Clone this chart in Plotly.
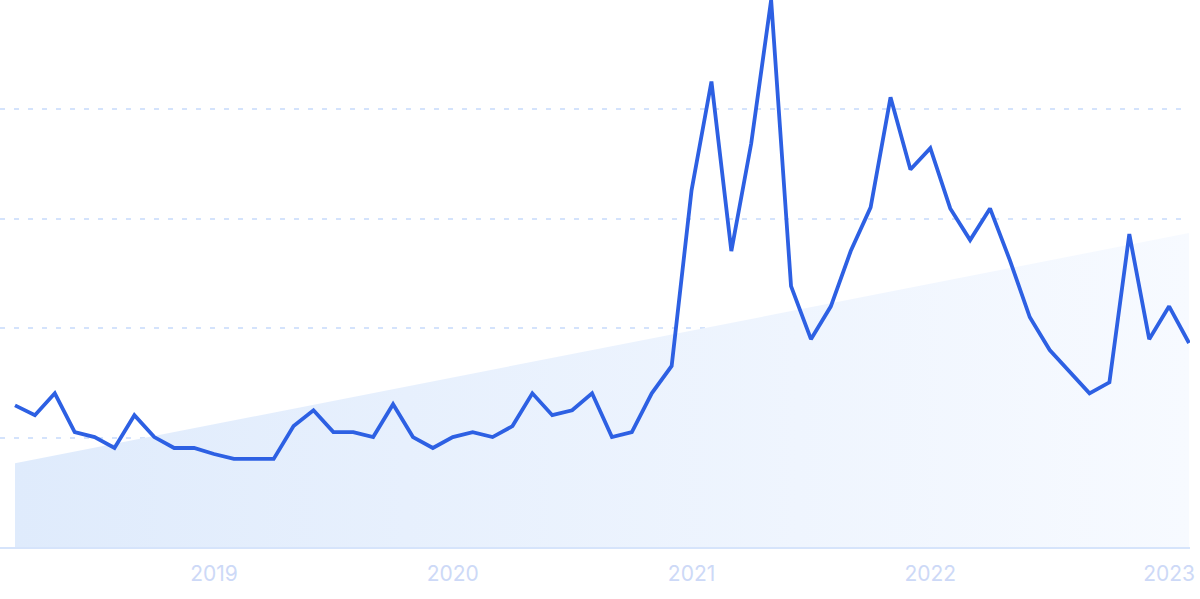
import plotly.graph_objects as go

# Monthly index values, March 2018 .. February 2023
months = [f"{2018 + (m - 1) // 12}-{(m - 1) % 12 + 1:02d}" for m in range(3, 63)]
values = [
    25.9, 24.1, 28.1, 21.0, 20.1, 18.1, 24.1, 20.1, 18.1, 18.1,
    17.0, 16.1, 16.1, 16.1, 22.1, 25.0, 21.0, 21.0, 20.1, 26.1,
    20.1, 18.1, 20.1, 21.0, 20.1, 22.1, 28.1, 24.1, 25.0, 28.1,
    20.1, 21.0, 28.1, 33.1, 65.2, 85.1, 54.1, 73.8, 100.0, 47.7,
    38.0, 44.0, 54.1, 62.1, 82.2, 69.0, 72.9, 61.9, 56.1, 61.9,
    52.4, 42.0, 36.0, 32.0, 28.1, 30.1, 57.2, 38.0, 44.0, 37.3,
]
trend_values = [15.3, 57.4]
tick_months = ["2019-01", "2020-01", "2021-01", "2022-01", "2023-01"]
tick_labels = ["2019", "2020", "2021", "2022", "2023"]

fig = go.Figure()
fig.add_trace(go.Scatter(
    x=[months[0], months[-1]], y=trend_values,
    mode="lines", line=dict(width=0),
    fill="tozeroy",
    fillgradient=dict(type="horizontal",
                      colorscale=[[0, "#dfebfc"], [1, "#f7faff"]]),
    hoverinfo="skip", showlegend=False,
))
fig.add_trace(go.Scatter(
    x=months, y=values, mode="lines",
    line=dict(color="#2d60e3", width=3.8),
    showlegend=False,
))

fig.update_layout(
    width=1200, height=599,
    margin=dict(l=0, r=10, t=0, b=52),
    paper_bgcolor="white", plot_bgcolor="white",
    font=dict(family="Inter, Roboto, sans-serif"),
)
fig.update_xaxes(
    type="category", categoryorder="array", categoryarray=months,
    range=[-0.754, 59.05],
    tickmode="array", tickvals=tick_months, ticktext=tick_labels,
    showgrid=False, zeroline=False,
    showline=True, linecolor="#d6e4fb", linewidth=1.5,
    ticks="outside", ticklen=7, tickcolor="rgba(0,0,0,0)",
    tickfont=dict(size=21, color="#cdd9f7"),
)
fig.update_yaxes(
    range=[0, 100], dtick=20, showticklabels=False,
    showgrid=True, gridcolor="#d4e3fc", gridwidth=1.5, griddash="5px,9px",
    zeroline=False,
)

fig.write_html(
    "out.html",
    config={"displayModeBar": False},
    post_script="document.body.style.margin='0';document.body.style.overflow='hidden';",
)
